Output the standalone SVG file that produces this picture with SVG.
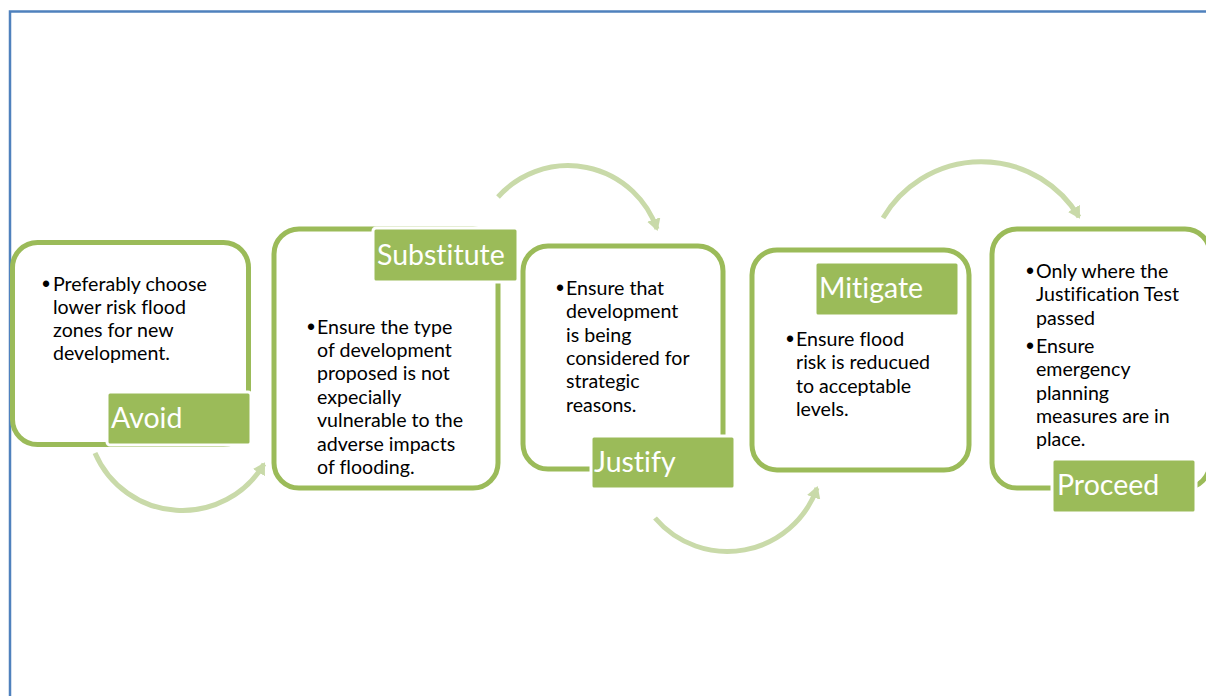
<svg xmlns="http://www.w3.org/2000/svg" width="1206" height="696" viewBox="0 0 1206 696">
<style>
.frame{fill:none;stroke:#4f81bd;stroke-width:2.5}
.box{fill:#fff;stroke:#9bbb59;stroke-width:5}
.lab{fill:#9bbb59;stroke:#fff;stroke-width:3}
.lt{font-family:Lato,"Liberation Sans",sans-serif;font-size:28.5px;fill:#fff;font-variant-ligatures:none}
.bt{font-family:Lato,"Liberation Sans",sans-serif;font-size:19.6px;fill:#000;font-variant-ligatures:none}
.bu{font-family:"Liberation Sans",sans-serif;font-size:23px;fill:#000}
.arc{fill:none;stroke:#c9daa9;stroke-width:5;marker-end:url(#ah)}
</style>
<defs>
<marker id="ah" markerUnits="userSpaceOnUse" viewBox="0 0 12 14" markerWidth="12" markerHeight="14" refX="10" refY="7" orient="auto">
<path d="M0,0 L12,7 L0,14 z" fill="#c9daa9"/>
</marker>
</defs>
<rect width="1206" height="696" fill="#fff"/>
<path class="frame" d="M10,696 V11.5 H1206"/>
<g id="connectors">
<path class="arc" d="M95,453 A95,95 0 0,0 264,464"/>
<path class="arc" d="M498,197 A94,94 0 0,1 657,229"/>
<path class="arc" d="M655,518 A95,95 0 0,0 817,488"/>
<path class="arc" d="M883,218 A114,114 0 0,1 1079,217"/>
</g>
<g id="avoid">
<rect class="box" x="12.5" y="242.5" width="236" height="202" rx="25"/>
<rect class="lab" x="107" y="392" width="144" height="53" rx="3"/>
<text class="lt" x="111" y="428">Avoid</text>
<text class="bu" x="42" y="292">•</text>
<text class="bt"><tspan x="53" y="291">Preferably choose</tspan><tspan x="53" y="314">lower risk flood</tspan><tspan x="53" y="337">zones for new</tspan><tspan x="53" y="360">development.</tspan></text>
</g>
<g id="substitute">
<rect class="box" x="274" y="229" width="224" height="259" rx="25"/>
<rect class="lab" x="373" y="228" width="145" height="54" rx="3"/>
<text class="lt" x="377" y="265">Substitute</text>
<text class="bu" x="307" y="335">•</text>
<text class="bt"><tspan x="317" y="334">Ensure the type</tspan><tspan x="317" y="357">of development</tspan><tspan x="317" y="380">proposed is not</tspan><tspan x="317" y="404">expecially</tspan><tspan x="317" y="427">vulnerable to the</tspan><tspan x="317" y="451">adverse impacts</tspan><tspan x="317" y="474">of flooding.</tspan></text>
</g>
<g id="justify">
<rect class="box" x="523" y="246" width="200" height="223" rx="25"/>
<rect class="lab" x="591" y="436" width="144" height="53" rx="3"/>
<text class="lt" x="594" y="472">Justify</text>
<text class="bu" x="556" y="296">•</text>
<text class="bt"><tspan x="566" y="295">Ensure that</tspan><tspan x="566" y="318">development</tspan><tspan x="566" y="342">is being</tspan><tspan x="566" y="365">considered for</tspan><tspan x="566" y="388">strategic</tspan><tspan x="566" y="412">reasons.</tspan></text>
</g>
<g id="mitigate">
<rect class="box" x="752" y="250" width="217" height="220" rx="25"/>
<rect class="lab" x="815" y="262" width="144" height="54" rx="3"/>
<text class="lt" x="819" y="298">Mitigate</text>
<text class="bu" x="786" y="347">•</text>
<text class="bt"><tspan x="796" y="346">Ensure flood</tspan><tspan x="796" y="369">risk is reducued</tspan><tspan x="796" y="393">to acceptable</tspan><tspan x="796" y="416">levels.</tspan></text>
</g>
<g id="proceed">
<rect class="box" x="992" y="229" width="218" height="259" rx="25"/>
<rect class="lab" x="1052" y="459" width="144" height="54" rx="3"/>
<text class="lt" x="1057" y="495">Proceed</text>
<text class="bu" x="1026" y="279">•</text>
<text class="bu" x="1026" y="354">•</text>
<text class="bt"><tspan x="1036" y="278">Only where the</tspan><tspan x="1036" y="301">Justification Test</tspan><tspan x="1036" y="325">passed</tspan><tspan x="1036" y="353">Ensure</tspan><tspan x="1036" y="376">emergency</tspan><tspan x="1036" y="400">planning</tspan><tspan x="1036" y="423">measures are in</tspan><tspan x="1036" y="446">place.</tspan></text>
</g>
</svg>
